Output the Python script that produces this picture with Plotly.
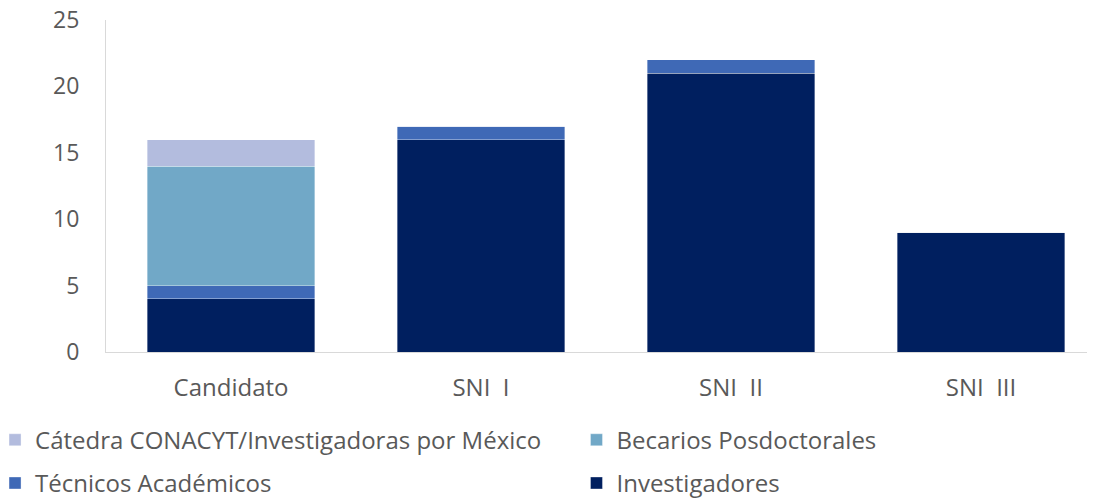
import plotly.graph_objects as go

categories = ["Candidato", "SNI  I", "SNI  II", "SNI  III"]
investigadores = [4, 16, 21, 9]
tecnicos = [1, 1, 1, 0]
becarios = [9, 0, 0, 0]
catedra = [2, 0, 0, 0]

series = [
    ("Investigadores", investigadores, "#001F5F", "legend2", 2),
    ("Técnicos Académicos", tecnicos, "#3F69B6", "legend", 2),
    ("Becarios Posdoctorales", becarios, "#71A8C7", "legend2", 1),
    ("Cátedra CONACYT/Investigadoras por México", catedra, "#B3BCDE", "legend", 1),
]

fig = go.Figure()
for name, vals, color, lg, rank in series:
    fig.add_trace(go.Bar(
        x=categories, y=vals, name=name, legend=lg, legendgroup=name, legendrank=rank,
        marker=dict(color=color, line=dict(width=0.6, color="rgba(255,255,255,0.6)")),
    ))

legend_common = dict(orientation="v", traceorder="grouped", xref="paper", yref="container",
                     xanchor="left", y=0.179, yanchor="top",
                     font=dict(size=24, color="#595959"), itemwidth=30, tracegroupgap=9,
                     bgcolor="rgba(0,0,0,0)")

fig.update_layout(
    barmode="stack",
    bargap=0.33,
    width=1095, height=499,
    margin=dict(l=98, r=0, t=12, b=155, autoexpand=False),
    paper_bgcolor="white", plot_bgcolor="white",
    font=dict(family="Open Sans", size=24, color="#595959"),
    xaxis=dict(range=[-0.5, 3.488], showline=True, linecolor="#D9D9D9", linewidth=1,
               ticks="", tickfont=dict(size=24), showgrid=False, ticklabelstandoff=14,
               ticklabeloverflow="allow"),
    yaxis=dict(range=[0, 25], dtick=5, showline=True, linecolor="#D9D9D9", linewidth=1,
               showgrid=False, ticks="", ticklabelstandoff=21, ticklabeloverflow="allow",
               tickfont=dict(size=23), zeroline=False),
    legend=dict(x=-0.1113, **legend_common),
    legend2=dict(x=0.4719, **legend_common),
    showlegend=True,
)

fig.write_html("out.html")
